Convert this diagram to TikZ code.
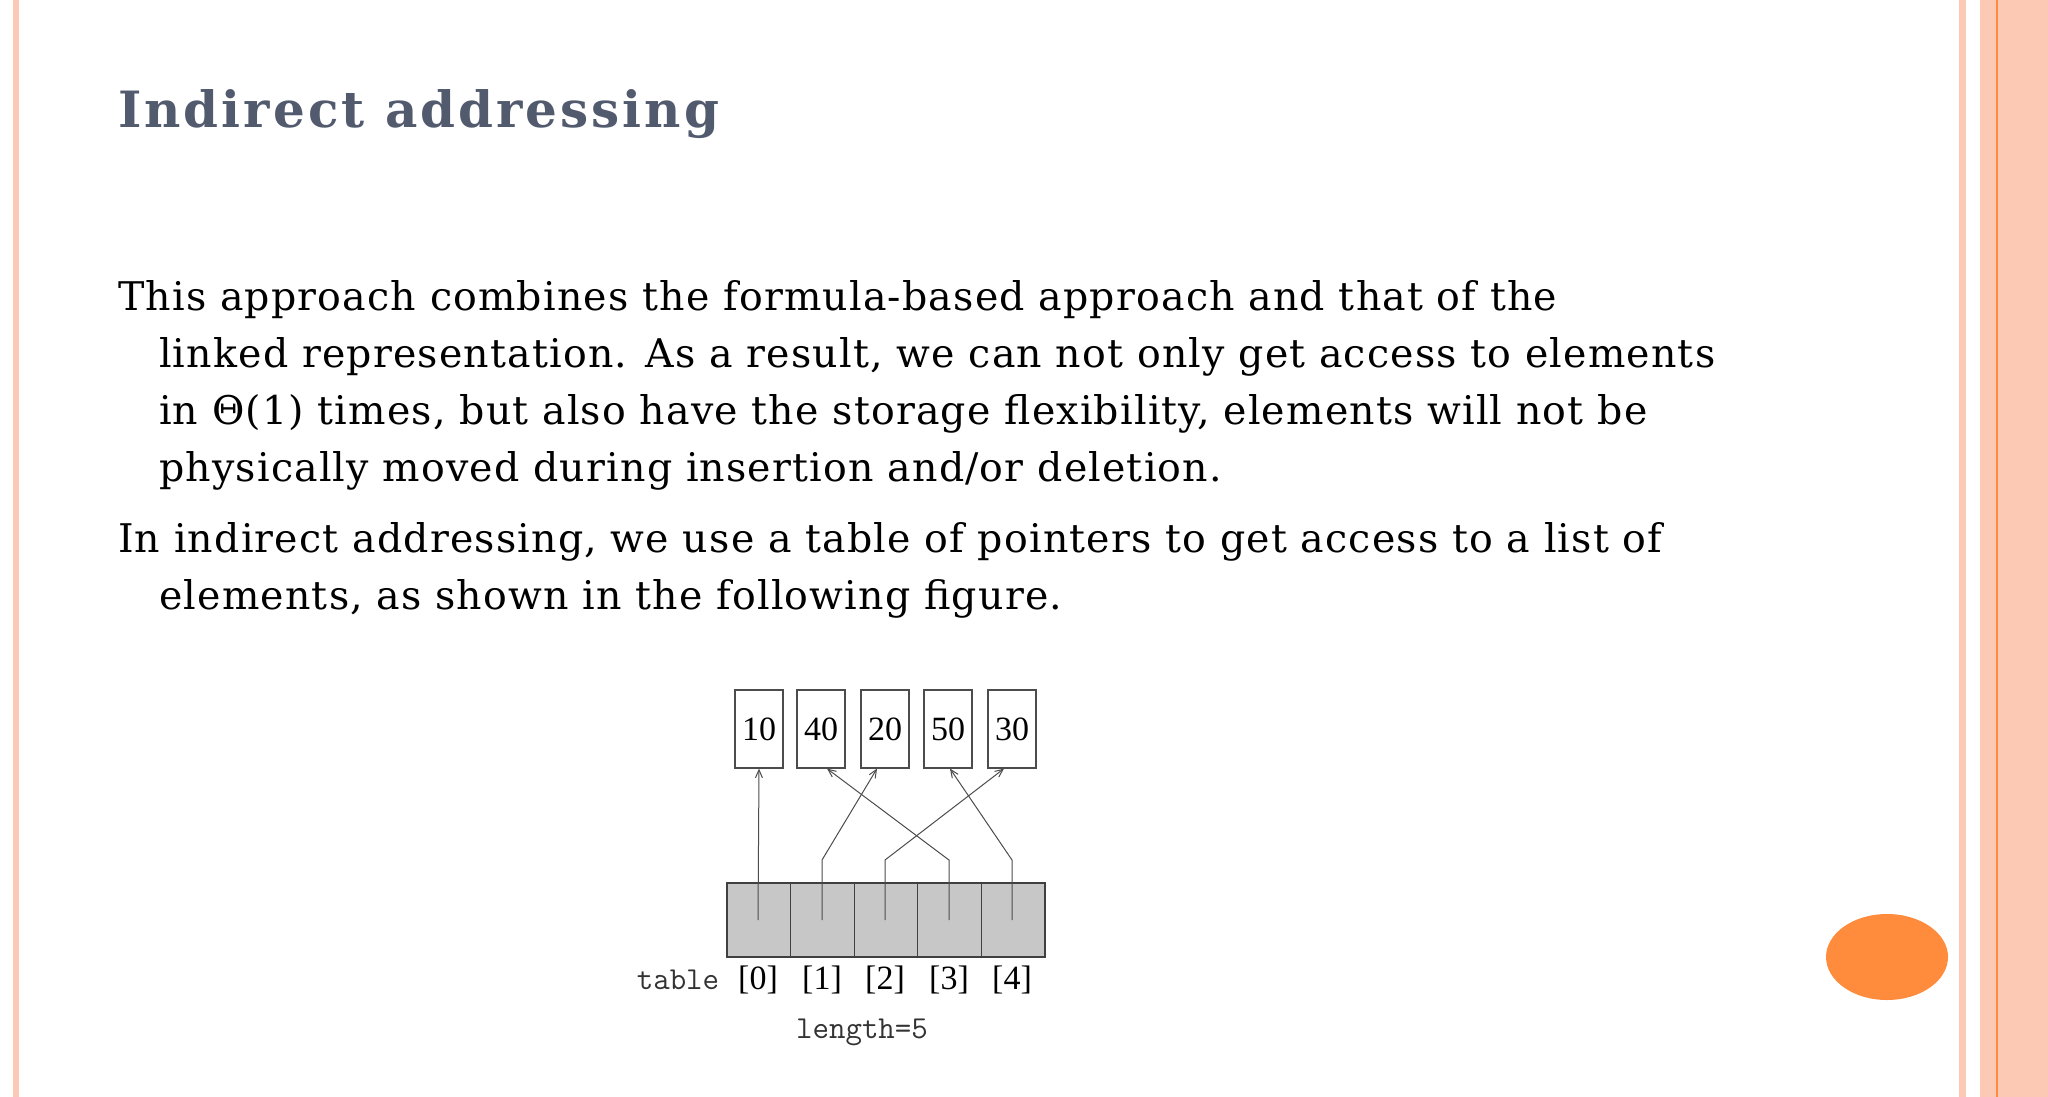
\documentclass[tikz,border=0pt]{standalone}
\usepackage{fontspec}
\setmainfont{DejaVu Serif}[LetterSpace=3]
\newfontfamily\titf{DejaVu Serif}[LetterSpace=6]
\newfontfamily\figf{Liberation Serif}
\usetikzlibrary{arrows.meta}
\definecolor{pinkb}{HTML}{FBC9B4}
\definecolor{orng}{HTML}{FF8C3C}
\definecolor{titc}{HTML}{525A6E}
\tikzset{body/.style={anchor=base west,inner sep=0,font=\fontsize{39.5}{40}\selectfont},
 cellbox/.style={draw=black!70,line width=1.2pt,minimum width=48,minimum height=78,inner sep=0,font=\figf\fontsize{34}{34}\selectfont},
 ptr/.style={draw=black!70,line width=1pt,-{Straight Barb[length=8pt,width=7pt]}},
 lab/.style={font=\figf\fontsize{34}{34}\selectfont,inner sep=0}}
\begin{document}
\begin{tikzpicture}[x=1pt,y=-1pt]
\useasboundingbox (0,0) rectangle (2048,1097);
\fill[pinkb] (13,0) rectangle (19,1097);
\fill[pinkb] (1959,0) rectangle (1966,1097);
\fill[pinkb] (1980,0) rectangle (2048,1097);
\draw[orng,line width=2pt] (1997,0) -- (1997,1097);
\node[anchor=base west,inner sep=0,text=titc,font=\titf\bfseries\fontsize{50}{50}\selectfont] (title) at (118,128) {Indirect addressing};
\node[body] (l1) at (118,310) {This approach combines the formula-based approach and that of the};
\node[body] (l2) at (159,367) {linked representation. As a result, we can not only get access to elements};
\node[body] (l3) at (159,424) {in Θ(1) times, but also have the storage flexibility, elements will not be};
\node[body] (l4) at (159,481) {physically moved during insertion and/or deletion.};
\node[body] (l5) at (118,552) {In indirect addressing, we use a table of pointers to get access to a list of};
\node[body] (l6) at (159,609) {elements, as shown in the following figure.};
\fill[orng] (1887,957) ellipse [x radius=61,y radius=43];
% figure
\foreach \n/\x/\v in {b0/759/10,b1/821/40,b2/885/20,b3/948/50,b4/1012/30}
  \node[cellbox] (\n) at (\x,729) {\v};
\fill[black!22] (727,883) rectangle (1045,957);
\draw[black!75,line width=2pt] (727,883) rectangle (1045,957);
\foreach \i in {1,2,3,4} \draw[black!75,line width=1.2pt] (727+63.6*\i,883) -- (727+63.6*\i,957);
\foreach \i/\x in {0/758,1/822,2/885,3/949,4/1012}{
  \coordinate (s\i) at (\x,920);
  \coordinate (k\i) at (\x,860);
  \node[lab] (t\i) at (\x,980) {[\i]};}
\draw[ptr] (s0) -- (b0.south);
\draw[ptr] (s1) -- (k1) -- ([xshift=-8]b2.south);
\draw[ptr] (s2) -- (k2) -- ([xshift=-8]b4.south);
\draw[ptr] (s3) -- (k3) -- ([xshift=6]b1.south);
\draw[ptr] (s4) -- (k4) -- ([xshift=2]b3.south);
\node[lab,font=\ttfamily\fontsize{32}{32}\selectfont,text=black!80] (tab) at (678,980) {table};
\node[lab,font=\ttfamily\fontsize{32}{32}\selectfont,text=black!80] (len) at (862,1032) {length=5};
\end{tikzpicture}
\end{document}
